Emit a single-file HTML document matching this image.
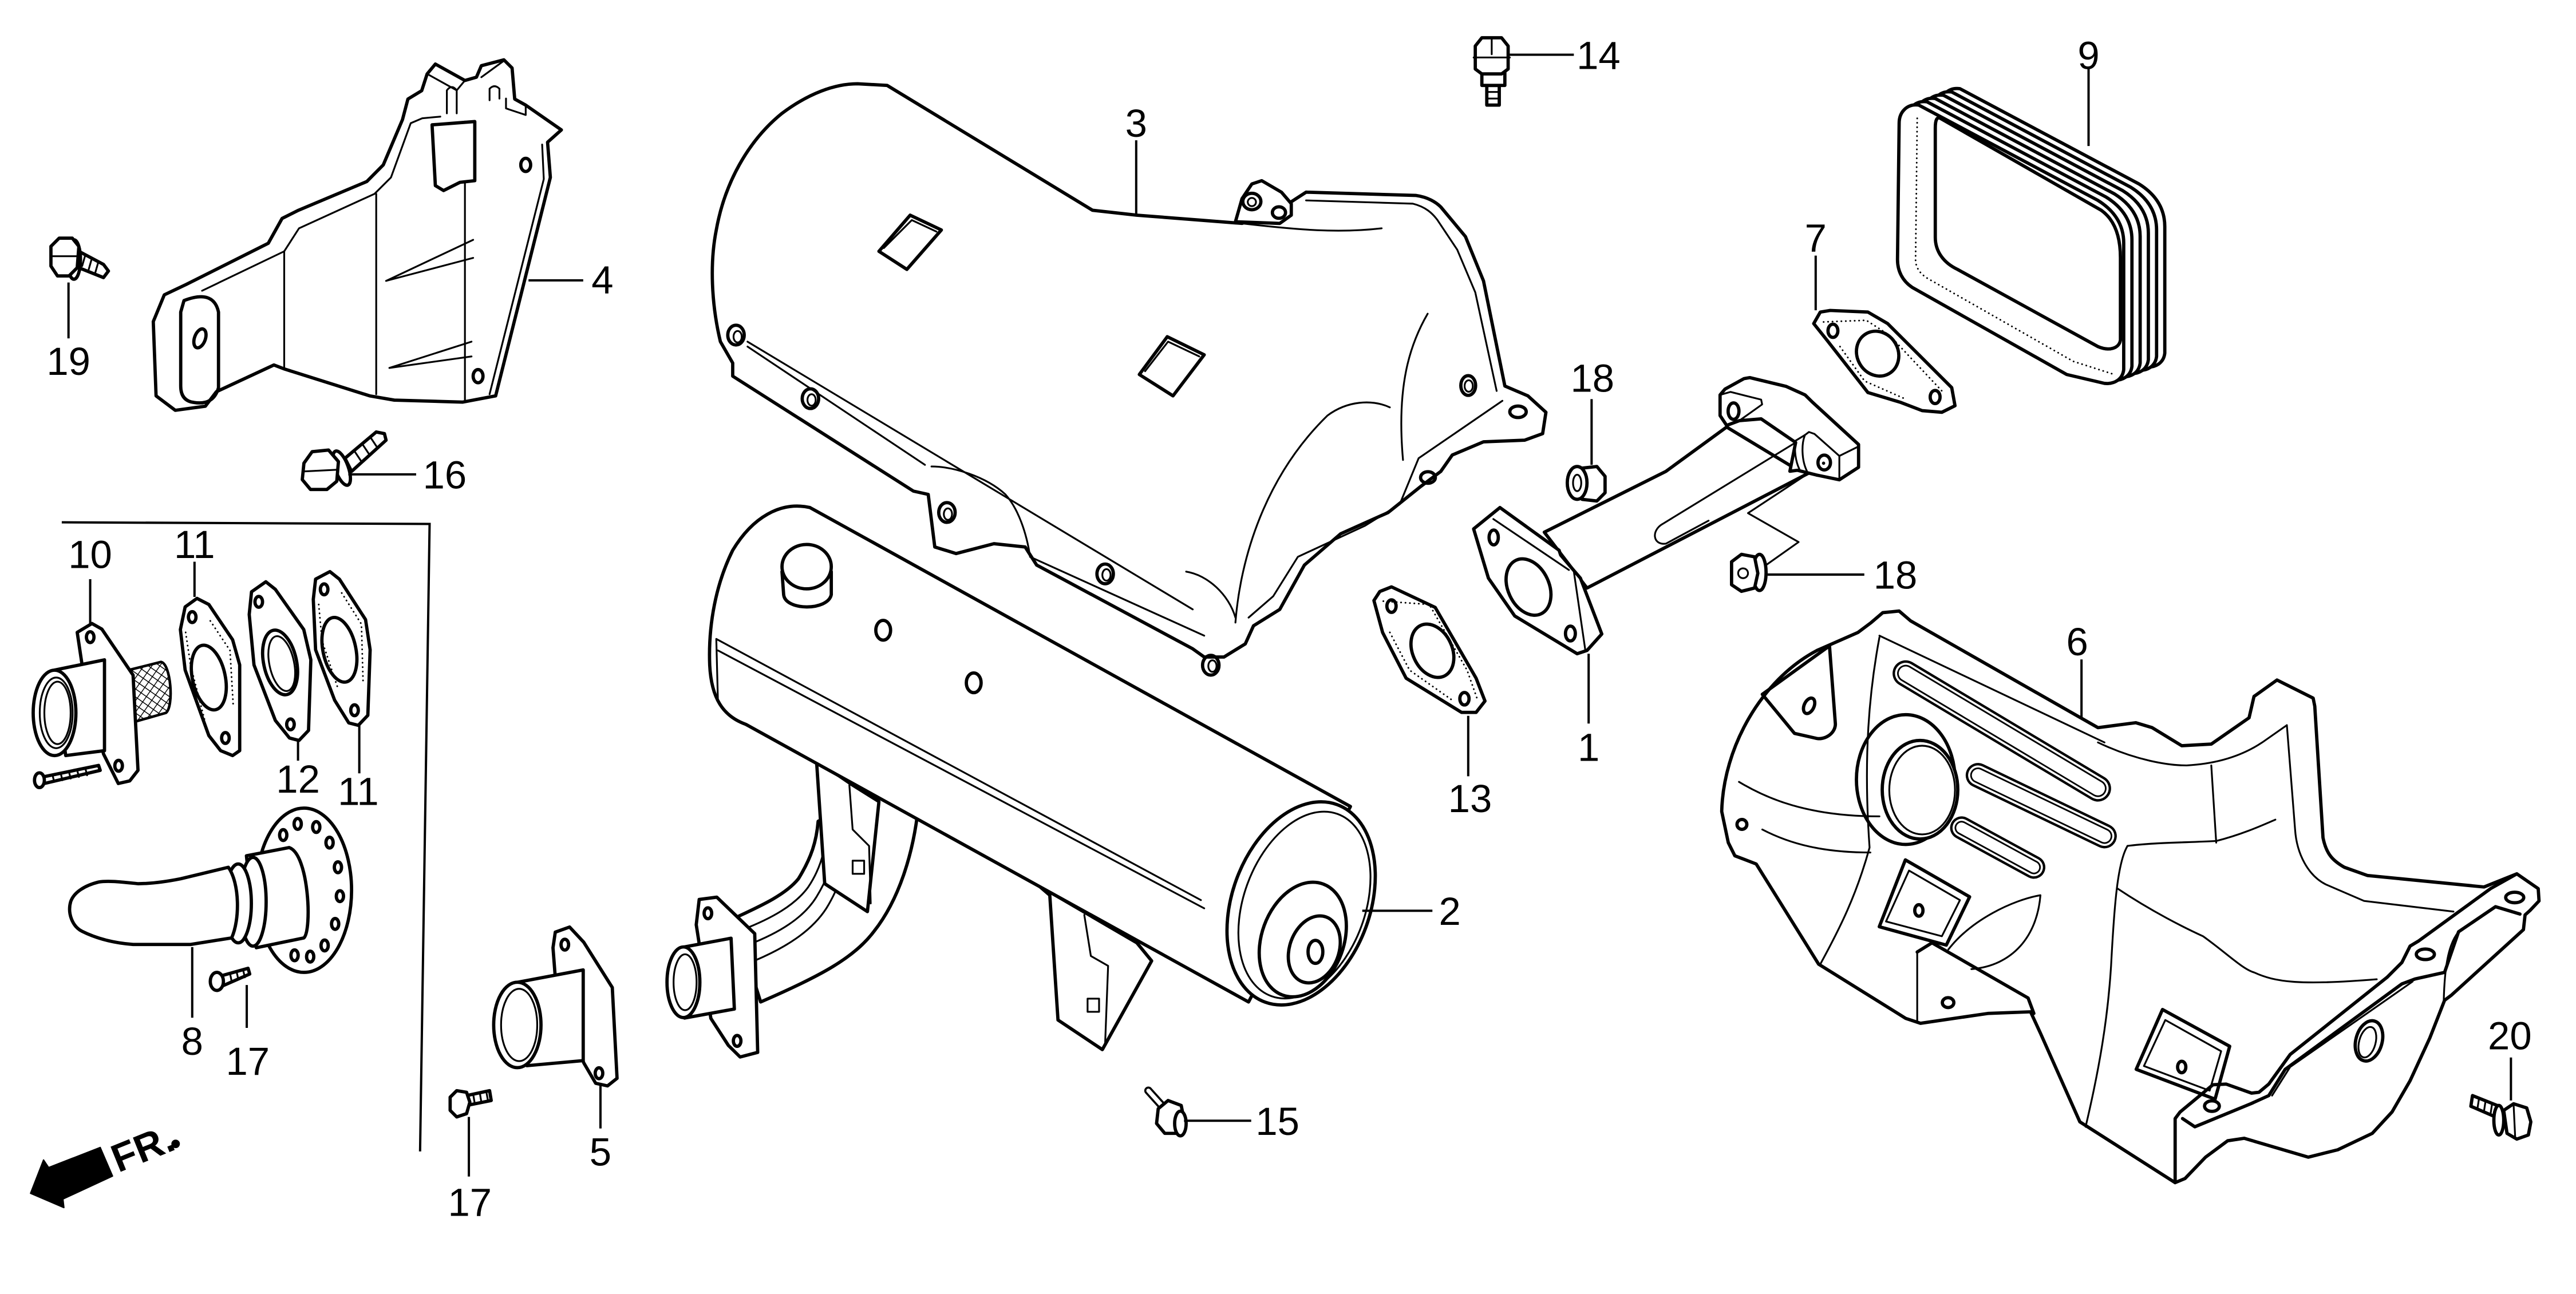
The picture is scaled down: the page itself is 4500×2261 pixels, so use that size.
<!DOCTYPE html>
<html><head><meta charset="utf-8"><style>
html,body{margin:0;padding:0;background:#fff;}
svg{display:block;}
.o{fill:#fff;stroke:#000;stroke-width:2;stroke-linejoin:round;stroke-linecap:round;}
.n{fill:none;stroke:#000;stroke-width:2;stroke-linejoin:round;stroke-linecap:round;}
.t{fill:none;stroke:#000;stroke-width:1.1;stroke-linejoin:round;stroke-linecap:round;}
.l{fill:none;stroke:#000;stroke-width:1.4;}
.d{fill:none;stroke:#000;stroke-width:1;stroke-dasharray:0.1 2.6;stroke-linecap:round;}
text{font-family:"Liberation Sans",Arial,sans-serif;font-size:24px;fill:#000;text-anchor:middle;}
</style></head><body>
<svg width="4500" height="2261" viewBox="0 0 1568 787.8" preserveAspectRatio="none" xmlns="http://www.w3.org/2000/svg">
<defs>
<pattern id="mesh" width="4" height="4" patternUnits="userSpaceOnUse" patternTransform="rotate(35)">
<rect width="4" height="4" fill="#fff"/><path d="M0,0 L0,4 M0,0 L4,0" stroke="#000" stroke-width="1"/>
</pattern>
</defs>
<rect x="0" y="0" width="1568" height="787.8" fill="#fff"/>

<!-- ===== Part 4 bracket ===== -->
<path class="o" d="M260,45 L265,39 L283,49 L290,47 L293,40 L306.7,36.4 L311.7,41.4 L313.3,60.3 L320,64 L341.7,79.1 L333.3,86.6 L335,108 L301.7,241 L281.7,244.8 L240,243.6 L225,241 L173.3,224.7 L166.7,222.2 L131.7,238.5 L125,247.3 L106.7,249.8 L95,241 L93.3,195.8 L100,179.5 L113.3,173.2 L163.3,148.1 L171.7,133 L181.7,128 L223.3,110.5 L233.3,100.4 L245,72.8 L248.3,60.3 L256.7,55.2 Z"/>
<path class="t" d="M123,177 L173,153 L182,139 L228,118 L238,108 L250,75 L257,72 L268,71"/>
<path class="t" d="M173,153 L173,224 M229,118 L229,240 M283,74 L283,244"/>
<path class="t" d="M330,88 L331,109 L298,240"/>
<path class="o" d="M263,76 L265,113 L270,116 L280,111 L289,110 L289,74 Z"/>
<path class="t" d="M260,45 L278,55 L283,49 M272,69 L272,55 Q275,51 278,55 L278,69 M293,47 L306.7,37 M298,61 L298,54 Q301,51 304,54 L304,60 M308,60 L308,66 L320,70 L320,64"/>
<path class="n" d="M112,183 Q130,176 133,190 L133,236 Q130,247 118,245 Q110,244 110,235 L110,190 Z"/>
<ellipse class="n" cx="121.7" cy="206" rx="3.3" ry="6" transform="rotate(20 121.7 206)"/>
<ellipse class="n" cx="320" cy="100.4" rx="3" ry="4"/>
<ellipse class="n" cx="291" cy="229" rx="3" ry="4"/>
<path class="t" d="M288,146 L235,171 L288,157 M287,208 L237,224 L287,217"/>
<path class="l" d="M321.7,170.7 L355,170.7"/>
<text x="366.7" y="178.6">4</text>

<!-- Bolt 19 -->
<path class="o" d="M48,153 L63,161 L66,165 L63,169 L48,163 Z"/>
<path class="t" d="M52,155 L50,162 M56,157 L54,164 M60,159 L58,166"/>
<ellipse class="o" cx="45" cy="158" rx="4" ry="12"/>
<path class="o" d="M31,150 L36,145 L44,145 L48,150 L47,163 L42,168 L35,168 L31,162 Z"/>
<path class="t" d="M31,156 L47,156"/>
<path class="l" d="M41.7,172 L41.7,206"/>
<text x="41.7" y="228.3">19</text>

<!-- Bolt 16 -->
<path class="o" d="M210,279 L229,263 L234,264 L235,268 L214,287 Z"/>
<path class="t" d="M216,275 L220,281 M221,271 L225,277 M226,267 L230,273"/>
<ellipse class="o" cx="208" cy="285" rx="4" ry="11" transform="rotate(-20 208 285)"/>
<path class="o" d="M185,282 L190,275 L200,274 L206,281 L205,293 L199,298 L189,298 L184,292 Z"/>
<path class="t" d="M185,287 L205,286"/>
<path class="l" d="M212,288.8 L253.3,288.8"/>
<text x="270.7" y="297.4">16</text>

<!-- Box lines -->
<path class="l" d="M37.6,318 L261.5,319 L255.7,701"/>

<!-- ===== Part 3 top shield ===== -->
<path class="o" d="M438.5,208 C433,185 432,160 436,140 C441,112 455,86 476,69 C492,57 508,51 522,51 L540,52 L665,128 L692,131 L756,136 L778,128 L795,117 L862,119 C869,120 874,123 877,126 L892,144 L903,171 L916,235 L930,241 L941,251 L939,264 L928,268 L903,269 L884,277 L877,287 L865,296 L845,312 L816,325 L794,344 L779,371 L763,381 L758,392 L745,400 L733,400 L726,395 L631,344 L624,333 L605,331 L582,337 L569,333 L565,301 L556,299 L446,229 L446,221 Z"/>
<path class="t" d="M455,211 L563,283 M455,208 L726,371 M627,339 L733,387"/>
<path class="t" d="M567,284 C580,284 600,290 612,301 C620,310 625,325 627,339"/>
<path class="t" d="M795,122 L860,124 C868,126 872,130 875,134 L887,152 L898,178 L911,238"/>
<path class="t" d="M914.5,244 L863.5,279 L852,307 L831,320 L790,339 L775,363 L760,376"/>
<path class="t" d="M869,191 C858,210 850,235 854,280"/>
<path class="t" d="M752,379 C755,340 770,290 808,253 C820,244 835,243 846,248"/>
<path class="t" d="M722,348 C735,350 748,362 752,376"/>
<path class="t" d="M756,136 C790,140 815,142 841,139"/>
<path class="n" d="M535,153 L554,131 L573,140 L552,164 Z"/>
<path class="t" d="M538,151 L555,134 L570,141"/>
<path class="n" d="M693.5,228 L710.5,205 L733,216 L714,241 Z"/>
<path class="t" d="M697,226 L711,208 L730,217"/>
<g class="n">
<ellipse cx="448" cy="204" rx="5" ry="6"/><ellipse cx="493.3" cy="242.7" rx="5" ry="6"/>
<ellipse cx="576.4" cy="312" rx="5" ry="6"/><ellipse cx="672.7" cy="349.4" rx="5" ry="6"/>
<ellipse cx="737" cy="405" rx="5" ry="6"/><ellipse cx="893.7" cy="234.7" rx="4.5" ry="6"/>
<ellipse cx="924" cy="250.7" rx="5" ry="3.5"/><ellipse cx="869.2" cy="290.7" rx="4.5" ry="3.5"/>
</g>
<g class="t">
<ellipse cx="449" cy="205" rx="2.5" ry="3.5"/><ellipse cx="494" cy="243.5" rx="2.5" ry="3.5"/>
<ellipse cx="577" cy="313" rx="2.5" ry="3.5"/><ellipse cx="673.5" cy="350" rx="2.5" ry="3.5"/>
<ellipse cx="738" cy="405.5" rx="2.5" ry="3.5"/><ellipse cx="894" cy="235" rx="2.5" ry="3.5"/>
</g>
<path class="o" d="M752,135 L756,121 L762,112 L768,110 L780,117 L786,124 L786,131 L779,136 Z"/>
<ellipse class="n" cx="762" cy="122.7" rx="5.5" ry="5"/>
<ellipse class="t" cx="762" cy="123" rx="2.5" ry="2.5"/>
<ellipse class="n" cx="778.5" cy="129.4" rx="4" ry="3.5"/>
<path class="l" d="M691.6,85.4 L691.6,130.7"/>
<text x="691.6" y="83.3">3</text>

<!-- Bolt 14 -->
<path class="o" d="M905,52 L912.6,52 L912.6,64 L905,64 Z"/>
<path class="t" d="M905,56 L912.6,56 M905,60 L912.6,60"/>
<path class="o" d="M902,44 L916,44 L916,52 L902,52 Z"/>
<path class="o" d="M898,28 L902,23 L914,23 L918,28 L918,42 L914,45 L902,45 L898,42 Z"/>
<path class="t" d="M897,35 L919,35 M908,23 L908,33"/>
<path class="l" d="M919,33.3 L958,33.3"/>
<text x="973" y="41.9">14</text>

<!-- ===== Gasket 9 ===== -->
<g>
<path class="o" transform="translate(25,-10)" d="M1168,64 L1277,122 C1285,127 1292.7,135 1292.7,148 L1292.7,225 C1292,231 1287,234 1281,233.4 L1258,228 L1164,175 C1158,171 1155,165 1155,158 L1156,75 C1156,68 1161,63 1168,64 Z"/>
<path class="o" transform="translate(20,-8)" d="M1168,64 L1277,122 C1285,127 1292.7,135 1292.7,148 L1292.7,225 C1292,231 1287,234 1281,233.4 L1258,228 L1164,175 C1158,171 1155,165 1155,158 L1156,75 C1156,68 1161,63 1168,64 Z"/>
<path class="o" transform="translate(15,-6)" d="M1168,64 L1277,122 C1285,127 1292.7,135 1292.7,148 L1292.7,225 C1292,231 1287,234 1281,233.4 L1258,228 L1164,175 C1158,171 1155,165 1155,158 L1156,75 C1156,68 1161,63 1168,64 Z"/>
<path class="o" transform="translate(10,-4)" d="M1168,64 L1277,122 C1285,127 1292.7,135 1292.7,148 L1292.7,225 C1292,231 1287,234 1281,233.4 L1258,228 L1164,175 C1158,171 1155,165 1155,158 L1156,75 C1156,68 1161,63 1168,64 Z"/>
<path class="o" transform="translate(5,-2)" d="M1168,64 L1277,122 C1285,127 1292.7,135 1292.7,148 L1292.7,225 C1292,231 1287,234 1281,233.4 L1258,228 L1164,175 C1158,171 1155,165 1155,158 L1156,75 C1156,68 1161,63 1168,64 Z"/>
<path class="o" d="M1168,64 L1277,122 C1285,127 1292.7,135 1292.7,148 L1292.7,225 C1292,231 1287,234 1281,233.4 L1258,228 L1164,175 C1158,171 1155,165 1155,158 L1156,75 C1156,68 1161,63 1168,64 Z"/>
<path class="o" d="M1181,72 L1279,128 C1286,133 1290.7,142 1290.7,157 L1290.7,207 C1290,212 1284,214 1277,211 L1191.5,164 C1183,160 1178,153 1178,144.5 L1178,78 C1178,73 1179,71 1181,72 Z"/>
<path class="d" d="M1167,72 L1166,158 C1166,164 1170,168 1176,171 L1262,220 L1287,228"/>
</g>
<path class="l" d="M1271.3,41.7 L1271.3,88.9"/>
<text x="1271.3" y="41.9">9</text>

<!-- ===== Gasket 7 ===== -->
<path class="o" d="M1104,197 L1108,190 L1114,189 L1137,190 L1149,197 L1188,236 L1190,247 L1182,251 L1170,250 L1157,245 L1137,239 L1112,207 Z"/>
<ellipse class="n" cx="1142.9" cy="215.3" rx="12.5" ry="14" transform="rotate(-30 1142.9 215.3)"/>
<ellipse class="n" cx="1115.7" cy="201.4" rx="3" ry="4"/>
<ellipse class="n" cx="1177.9" cy="241.7" rx="3" ry="4"/>
<path class="d" d="M1110,196 L1136,195 L1150,204 L1182,238 M1120,211 L1135,232 L1160,243"/>
<path class="l" d="M1105.2,155.6 L1105.2,188.9"/>
<text x="1105.2" y="153.1">7</text>

<!-- ===== Part 1 exhaust pipe ===== -->
<path class="o" d="M940,324 L1014,287 L1051,260 L1094,286 L1101,288 L966,358 Z"/>
<path class="t" d="M1093,269.4 L1012,319 C1005,323 1006,332 1014,331 L1040,317"/>
<path class="t" d="M1101,288 L1064,312.4 L1094.8,330 L1075,344"/>
<path class="o" d="M1047,240.4 L1050,236.9 L1061.6,230.5 L1065.1,229.9 L1087.1,235.2 L1098.7,240.4 L1103.4,245 L1131.3,270.6 L1131.3,284.5 L1119.6,292.1 L1105.7,289.2 L1094.1,286.3 L1089.5,286.9 L1093,269.4 L1072,255 L1058.7,256.1 L1051,259 L1047,253 Z"/>
<path class="t" d="M1047,240.4 L1053.4,238.6 L1072,243.3 L1072.6,246.2 L1058.7,256.1"/>
<ellipse class="n" cx="1055.2" cy="250.3" rx="3.3" ry="5"/>
<path class="t" d="M1093,268.3 L1098.7,264.8 L1101.1,263 L1104.5,264.2 L1119.6,277.6 L1131.3,271.8 M1119.6,277.6 L1119.6,292.1"/>
<path class="t" d="M1098.7,264.8 C1096.5,270 1096.5,280 1099.9,286.9 M1093,268.3 C1092,274 1093,281 1095.3,285.7"/>
<ellipse class="n" cx="1110.4" cy="281.6" rx="3.8" ry="4.5"/>
<circle cx="1110" cy="282" r="1" fill="#000"/>
<path class="o" d="M897,322 L913,309 L949,335 L950,338 L962,352 L975,386 L966,396 L960,398 L922,375 L906,352 Z"/>
<path class="t" d="M958,348 L965,396 M909,316 L955,347"/>
<ellipse class="n" cx="930.4" cy="357.4" rx="12.5" ry="18" transform="rotate(-25 930.4 357.4)"/>
<ellipse class="n" cx="909.2" cy="327.2" rx="2.8" ry="4.5"/>
<ellipse class="n" cx="955.9" cy="385.7" rx="3" ry="4.5"/>
<path class="l" d="M967,398 L967,440.5"/>
<text x="967" y="463.3">1</text>

<!-- Nut 18 top -->
<path class="o" d="M963,285 L972,284 L977,290 L977,300 L972,305 L963,304 Z"/>
<ellipse class="o" cx="960" cy="294" rx="6" ry="10"/>
<ellipse class="t" cx="960" cy="294" rx="2.5" ry="5"/>
<path class="l" d="M968.8,243 L968.8,283"/>
<text x="969.3" y="238.5">18</text>

<!-- Nut 18 right -->
<ellipse class="o" cx="1071" cy="348.5" rx="4" ry="11"/>
<path class="o" d="M1054,342 L1060,337.5 L1068,339 L1070,349 L1068,358 L1060,360 L1054,356 Z"/>
<circle class="t" cx="1061" cy="349" r="3"/>
<path class="l" d="M1075.9,349.8 L1134.8,349.8"/>
<text x="1153.7" y="358.4">18</text>

<!-- ===== Gasket 13 ===== -->
<path class="o" d="M836.3,365.6 L839.9,360.1 L847,357.3 L873.6,369.8 L898.5,412.9 L903.9,426.8 L898.5,433.7 L889.6,433.7 L855.9,412.9 L841.6,385.1 Z"/>
<ellipse class="n" cx="871.9" cy="396.2" rx="12" ry="17" transform="rotate(-25 871.9 396.2)"/>
<ellipse class="n" cx="847" cy="369" rx="2.8" ry="3.8"/>
<ellipse class="n" cx="891.4" cy="425.4" rx="2.8" ry="3.8"/>
<path class="d" d="M842,366 L870,368 L893,408 L899,425 M846,385 L858,408 L885,427"/>
<path class="l" d="M893.7,435.8 L893.7,472.6"/>
<text x="894.8" y="494.4">13</text>

<!-- ===== Muffler 2 ===== -->
<path class="o" d="M447,559 C462,552 478,545 486,535 C494,522 497,512 498,500 L540,480 L559,491 C556,520 547,548 532,567 C520,583 500,594 463,610 Z"/>
<path class="t" d="M452,566 C470,559 484,551 492,540 C500,528 503,515 503,503 M456,575 C474,568 489,559 497,546 C505,533 509,520 509,506 M459,585 C478,577 494,567 503,553 C511,540 515,527 516,512"/>
<path class="o" d="M423.8,563 L425.6,547.6 L436.3,546.2 L459.4,568.4 L461.2,640.7 L450.5,643.5 L443.4,636.5 L432.7,620 Z"/>
<ellipse class="n" cx="430.9" cy="556" rx="2.3" ry="3.3"/>
<ellipse class="n" cx="448.7" cy="633.7" rx="2.3" ry="3.3"/>
<path class="o" d="M415,576.8 L445,571.2 L447,614.3 L416.7,619.8 Z"/>
<ellipse class="o" cx="416" cy="598" rx="10" ry="21.5"/>
<ellipse class="t" cx="417" cy="598" rx="7" ry="17"/>
<path class="o" d="M497,463 L502,538 L528,555 L535,488 L519,478 Z"/>
<path class="t" d="M517,478 L519,505 L529,515 L530,550"/>
<rect class="t" x="519" y="524" width="7" height="8"/>
<path class="o" d="M632,539 L639,545 L644,621 L671,639 L701,585 L692,574 Z"/>
<path class="t" d="M660,557 L664,582 L674.5,588 L672.7,635"/>
<rect class="t" x="662" y="608" width="7" height="8"/>
<path class="o" d="M493,309 L822,491 L760,610 L454,441 C440,436 433,425 432,405 C431,380 436,355 446,335 C458,315 475,305 493,309 Z"/>
<path class="t" d="M436,389 L731,548 M437,396 L733,553 M436,389 L437,427"/>
<ellipse class="o" cx="792" cy="550" rx="42" ry="64" transform="rotate(20 792 550)"/>
<ellipse class="t" cx="794" cy="551" rx="37" ry="59" transform="rotate(20 794 551)"/>
<ellipse class="n" cx="793" cy="572" rx="25" ry="36" transform="rotate(20 793 572)"/>
<ellipse class="n" cx="800" cy="578" rx="15" ry="21" transform="rotate(20 800 578)"/>
<ellipse class="n" cx="800.7" cy="579.5" rx="4.5" ry="7"/>
<path class="o" d="M476,348 L477,362 C478,372 504,372 506,362 L506,348 Z"/>
<ellipse class="o" cx="491" cy="345" rx="15" ry="13.5"/>
<ellipse class="n" cx="537.6" cy="383.7" rx="4.5" ry="6"/>
<ellipse class="n" cx="592.7" cy="415.7" rx="4.5" ry="6"/>
<path class="l" d="M829.2,554.5 L871.9,554.5"/>
<text x="882.5" y="563.1">2</text>

<!-- Bolt 15 -->
<path d="M699,664 L708,674" stroke="#000" stroke-width="5" stroke-linecap="round"/>
<path d="M699,664 L708,674" stroke="#fff" stroke-width="2.5" stroke-linecap="round"/>
<path class="o" d="M705,675 L711,670 L719,673 L721,683 L717,690 L709,690 L704,684 Z"/>
<ellipse class="o" cx="718.5" cy="684" rx="3.5" ry="7.5"/>
<path class="l" d="M720.7,682.3 L761.6,682.3"/>
<text x="777.6" y="690.9">15</text>

<!-- ===== Part 10 ===== -->
<path fill="url(#mesh)" stroke="#000" stroke-width="1.6" d="M78,408 L98,403 C104,404 106,430 101,434 L80,440 Z"/>
<path class="o" d="M47,385 L56,379.6 L62,383 L81,411 L84,469 L79,475.4 L72,477 L63,459 L50,405 Z"/>
<ellipse class="n" cx="54.9" cy="387.9" rx="2.3" ry="3.3"/>
<ellipse class="n" cx="72.2" cy="466.2" rx="2.3" ry="3.3"/>
<path class="o" d="M33,408 L63.6,401.7 L63.6,457 L40,460 Z"/>
<ellipse class="o" cx="33.2" cy="434" rx="13" ry="26"/>
<ellipse class="t" cx="34.2" cy="434" rx="10" ry="21.5"/>
<ellipse class="t" cx="35" cy="434" rx="8" ry="19"/>
<path class="o" d="M26,473 L60,466 L61,469 L27,477 Z"/>
<path class="t" d="M32,472 L33,476 M37,471 L38,475 M42,470 L43,474 M47,469 L48,473 M52,468 L53,472"/>
<ellipse class="o" cx="24" cy="475" rx="3" ry="4.5"/>
<path class="l" d="M54.9,352.6 L54.9,380.3"/>
<text x="54.9" y="345.9">10</text>

<!-- Gasket 11a -->
<path class="o" d="M112.7,369.5 L119.9,364.3 L127.1,368 L141.6,389.5 L145.9,404.8 L145.9,457 L141.6,460 L134.3,457 L127.1,447.8 L112.7,407.9 L109.8,383.3 Z"/>
<ellipse class="n" cx="127.1" cy="412.5" rx="10" ry="20" transform="rotate(-12 127.1 412.5)"/>
<ellipse class="n" cx="117" cy="375.7" rx="2.3" ry="3.3"/>
<ellipse class="n" cx="137.2" cy="449.3" rx="2.3" ry="3.3"/>
<path class="d" d="M113,385 L116,405 L125,440 M128,378 L140,396 L142,430"/>
<path class="l" d="M118.4,342 L118.4,363.4"/>
<text x="118.4" y="339.7">11</text>

<!-- Gasket 12 -->
<path class="o" d="M153.1,360.3 L161.8,354.2 L167.6,358.8 L184.9,383.3 L189.2,401.7 L187.8,444.7 L182,450.8 L176.2,449.3 L167.6,438.6 L154.6,404.8 L151.7,374.1 Z"/>
<ellipse class="n" cx="170.5" cy="403.3" rx="10" ry="20" transform="rotate(-12 170.5 403.3)"/>
<ellipse class="t" cx="171.5" cy="404" rx="7.5" ry="17" transform="rotate(-12 171.5 404)"/>
<ellipse class="n" cx="157.5" cy="366.4" rx="2.3" ry="3.3"/>
<ellipse class="n" cx="176.8" cy="441" rx="2.3" ry="3.3"/>
<path class="l" d="M181.4,450.8 L181.4,463.1"/>
<text x="181.4" y="482.5">12</text>

<!-- Gasket 11b -->
<path class="o" d="M192.1,352.6 L200.8,348 L206.6,352.6 L222.5,377.2 L225.3,395.6 L223.9,435.5 L218.1,441.6 L212.3,440.1 L203.7,426.3 L192.1,395.6 L190.7,364.9 Z"/>
<ellipse class="n" cx="206.6" cy="395.6" rx="10" ry="20" transform="rotate(-12 206.6 395.6)"/>
<ellipse class="n" cx="197.3" cy="358.8" rx="2.3" ry="3.3"/>
<ellipse class="n" cx="215.8" cy="432.4" rx="2.3" ry="3.3"/>
<path class="d" d="M194,368 L196,390 L206,420 M208,361 L220,380 L221,415"/>
<path class="l" d="M218.7,441.6 L218.7,470.8"/>
<text x="218.1" y="490.1">11</text>

<!-- ===== Part 8 ===== -->
<ellipse class="o" cx="185" cy="542" rx="29" ry="50"/>
<g class="n">
<ellipse cx="181.2" cy="501.6" rx="2.2" ry="3.3"/><ellipse cx="192.5" cy="503.5" rx="2.2" ry="3.3"/>
<ellipse cx="200.6" cy="513" rx="2.2" ry="3.3"/><ellipse cx="205.7" cy="528" rx="2.2" ry="3.3"/>
<ellipse cx="206.9" cy="545.6" rx="2.2" ry="3.3"/><ellipse cx="204" cy="562.5" rx="2.2" ry="3.3"/>
<ellipse cx="197.6" cy="575.6" rx="2.2" ry="3.3"/><ellipse cx="188.8" cy="582.4" rx="2.2" ry="3.3"/>
<ellipse cx="179.3" cy="581.6" rx="2.2" ry="3.3"/><ellipse cx="172.4" cy="508.4" rx="2.2" ry="3.3"/>
</g>
<path class="o" d="M150,521 L176,516 C188,520 190,566 185,571 L156,577 Z"/>
<ellipse class="o" cx="154" cy="549" rx="8" ry="27"/>
<ellipse class="o" cx="145" cy="550" rx="8" ry="24"/>
<path class="o" d="M139,528 L110,535 C100,537 92,538 84,538 C74,537 66,536 60,537 C52,539 45,543 43,549 C41,556 44,564 50,567 C58,571 68,574 81,575 L116,575 L141,571 C146,560 146,538 139,528 Z"/>
<path class="l" d="M117,576.6 L117,619.6"/>
<text x="117" y="642.1">8</text>
<!-- Bolt 17 upper -->
<path class="o" d="M135,594 L151,589.5 L152,593 L136,600 Z"/>
<path class="t" d="M140,592.5 L141,597.5 M144,591.5 L145,596 M148,590.5 L149,595"/>
<ellipse class="o" cx="132" cy="597.5" rx="4" ry="5.5"/>
<path class="l" d="M150.2,599.7 L150.2,625.8"/>
<text x="150.8" y="654.3">17</text>

<!-- FR arrow -->
<polygon points="18.6,726.5 26.5,706.2 29.6,710.8 61,698.6 68.5,716 38.3,730 38.9,735.2" fill="#000" stroke="#000" stroke-width="0.8" stroke-linejoin="round"/>
<text x="72" y="714" style="font-weight:bold;font-size:24px;text-anchor:start" transform="rotate(-22 72 714)">FR.</text>
<circle cx="106.9" cy="696.4" r="2.6" fill="#000"/>

<!-- ===== Part 5 ===== -->
<path class="o" d="M336.6,577 L338,567.5 L346.7,564.4 L355.3,573.6 L372.7,601.2 L375.6,656.5 L369.8,661.1 L362.6,659.5 L355.3,647 L338,595 Z"/>
<ellipse class="n" cx="343.8" cy="575.1" rx="2.3" ry="3.3"/>
<ellipse class="n" cx="364.6" cy="653.4" rx="2.3" ry="3.3"/>
<path class="o" d="M315,598 L355,590.5 L355,645.7 L320.7,648.8 Z"/>
<ellipse class="o" cx="314.9" cy="624" rx="14.4" ry="26"/>
<ellipse class="t" cx="316" cy="624" rx="11" ry="22"/>
<path class="l" d="M365.5,661 L365.5,687"/>
<text x="365.5" y="709.6">5</text>
<!-- Bolt 17 lower -->
<path class="o" d="M284,667 L298,664 L299,670 L284,673 Z"/>
<path class="t" d="M288,666 L289,672 M292,665 L293,671 M296,664.5 L297,670"/>
<path class="o" d="M274,668 L278,664 L284,665 L286,671 L284,678 L278,680 L274,676 Z"/>
<path class="l" d="M285.4,680 L285.4,716.3"/>
<text x="286" y="740.3">17</text>

<!-- ===== Part 6 heat shield ===== -->
<path class="o" d="M1048,494 C1049,455 1072,414 1106,396 L1131,385 L1139,379 L1146,373 L1156,372 L1163,378 L1277,443 L1300,440 L1310,443 L1328,454 L1346,453 L1369,437 L1372,424 L1386,414 L1408,425 L1409,430 L1414,510 C1416,520 1420,524 1427,528 L1441,533 L1512,540 L1532,532 L1545,541 L1545.5,548.5 L1540,554.3 L1537,557 L1536,566 L1492,606 L1488,609 L1479,632 L1467,658 L1456,677 L1444,690 L1423,700 L1405,704.5 L1366,693 L1356,694.5 L1342.5,704.5 L1330,717.5 L1324,720 L1266,683 L1242,629 L1236,616 L1210,617 L1169,623 L1160,620 L1107,587 L1069,526 L1056,521 L1052,513 Z"/>
<path class="t" d="M1144,387 L1281,452"/>
<path class="t" d="M1277,452 C1300,463 1320,466 1331,466 C1350,465 1365,460 1377,452 L1392,441.5"/>
<path class="t" d="M1392,441.5 L1397,505 C1398,520 1405,533 1415.6,538.4 L1439,548.5 L1493.4,555"/>
<path class="t" d="M1346,466 L1349,513"/>
<path class="t" d="M1295,515 C1310,513 1330,513 1349,512 C1365,508 1378,502 1385,499"/>
<path class="t" d="M1295,515 C1289,525 1287,550 1285,588 C1283,620 1278,650 1269.5,686"/>
<path class="t" d="M1289,541 C1310,555 1330,565 1341,570 C1355,580 1365,590 1372,592 C1385,598 1400,600 1446.7,596.2"/>
<!-- strip -->
<path class="n" d="M1532,532 L1516,541 L1472,573 L1467,576 L1462,586 L1453,595 L1394,642 L1381,660 L1375,665 L1370.5,665.5 L1355,660 L1347,660.4 L1327,677 L1324,681 L1324,720"/>
<path class="n" d="M1533.9,556.5 L1519,552 L1496.5,567.3 L1488,592 L1470,596 L1462,599 L1391,651 L1381,667 L1370,672 L1336,686 L1328.5,681"/>
<path class="t" d="M1468.5,597.6 L1394,649.6 L1383,667"/>
<path class="t" d="M1496.5,567.3 C1490,575 1488,590 1487.5,609"/>
<ellipse class="n" cx="1530.7" cy="546.4" rx="5.5" ry="3.2"/>
<ellipse class="n" cx="1476.3" cy="581" rx="5.5" ry="3.2"/>
<ellipse class="n" cx="1346.4" cy="673.4" rx="4.5" ry="3.2"/>
<ellipse class="n" cx="1442" cy="633.7" rx="8" ry="12.5" transform="rotate(15 1442 633.7)"/>
<ellipse class="t" cx="1441" cy="634.5" rx="5" ry="9.5" transform="rotate(15 1441 634.5)"/>
<path class="n" d="M1072.7,422.7 L1113.6,393.2 L1117.2,440.9 C1117,447 1110,451 1104.7,449.3 L1092.3,446.5 Z"/>
<ellipse class="n" cx="1101.2" cy="429.7" rx="3" ry="5" transform="rotate(25 1101.2 429.7)"/>
<ellipse class="n" cx="1060.3" cy="501.9" rx="3" ry="3"/>
<ellipse class="n" cx="1160" cy="474.6" rx="30" ry="39.5"/>
<ellipse class="o" cx="1168.7" cy="480.8" rx="23" ry="30"/>
<ellipse class="t" cx="1170" cy="481" rx="20" ry="27"/>
<g>
<path d="M1160,410 L1277,480" stroke="#000" stroke-width="16" stroke-linecap="round" fill="none"/>
<path d="M1160,410 L1277,480" stroke="#fff" stroke-width="13" stroke-linecap="round" fill="none"/>
<path d="M1160,410 L1277,480" stroke="#000" stroke-width="10.5" stroke-linecap="round" fill="none"/>
<path d="M1160,410 L1277,480" stroke="#fff" stroke-width="8.5" stroke-linecap="round" fill="none"/>
<path d="M1204,472 L1281,509" stroke="#000" stroke-width="15" stroke-linecap="round" fill="none"/>
<path d="M1204,472 L1281,509" stroke="#fff" stroke-width="12" stroke-linecap="round" fill="none"/>
<path d="M1204,472 L1281,509" stroke="#000" stroke-width="9.5" stroke-linecap="round" fill="none"/>
<path d="M1204,472 L1281,509" stroke="#fff" stroke-width="7.5" stroke-linecap="round" fill="none"/>
<path d="M1194,504 L1238,528" stroke="#000" stroke-width="14" stroke-linecap="round" fill="none"/>
<path d="M1194,504 L1238,528" stroke="#fff" stroke-width="11" stroke-linecap="round" fill="none"/>
<path d="M1194,504 L1238,528" stroke="#000" stroke-width="8.5" stroke-linecap="round" fill="none"/>
<path d="M1194,504 L1238,528" stroke="#fff" stroke-width="6.5" stroke-linecap="round" fill="none"/>
</g>
<path class="n" d="M1159.8,523.5 L1198.9,546 L1184.7,575.4 L1143.9,564.2 Z"/>
<path class="t" d="M1162,530 L1193,548 L1182,570 L1148,561 Z"/>
<ellipse class="n" cx="1168" cy="554.3" rx="2.5" ry="3.5"/>
<path class="n" d="M1316.3,614.6 L1357.2,637 L1348.3,669.2 L1300.3,651 Z"/>
<path class="t" d="M1318,621 L1352,640 L1345,664 L1305,649 Z"/>
<ellipse class="n" cx="1328" cy="649.6" rx="2.5" ry="3.5"/>
<path class="n" d="M1167,579.6 L1176,574 L1234.5,607.6 L1238,617"/>
<path class="t" d="M1167,579.6 L1167,622"/>
<ellipse class="n" cx="1185.8" cy="610.4" rx="3.5" ry="3"/>
<path class="t" d="M1058.5,476 C1075,486 1100,497 1144,497 M1072.7,505 C1090,514 1110,519 1138.5,519"/>
<path class="t" d="M1144,388 C1138,420 1134,460 1138,516 C1130,545 1120,565 1108,587"/>
<path class="t" d="M1186,578 C1200,560 1225,548 1242,545 C1240,570 1225,588 1200,590"/>
<path class="l" d="M1267,401.5 L1267,437"/>
<text x="1264.4" y="398.9">6</text>

<!-- Bolt 20 -->
<path class="o" d="M1505,667 L1520,673 L1519,680 L1504,673.5 Z"/>
<path class="t" d="M1509,668.5 L1508,675 M1513,670 L1512,676.5 M1517,671.5 L1516,678"/>
<ellipse class="o" cx="1521" cy="682" rx="3" ry="9"/>
<path class="o" d="M1524,676 L1530,672 L1538,674.5 L1540.5,683 L1539,691 L1532,693.5 L1526,690 Z"/>
<path class="t" d="M1530,672 L1531,693"/>
<path class="l" d="M1528.4,643.8 L1528.4,670"/>
<text x="1527.7" y="638.9">20</text>

</svg>
</body></html>
